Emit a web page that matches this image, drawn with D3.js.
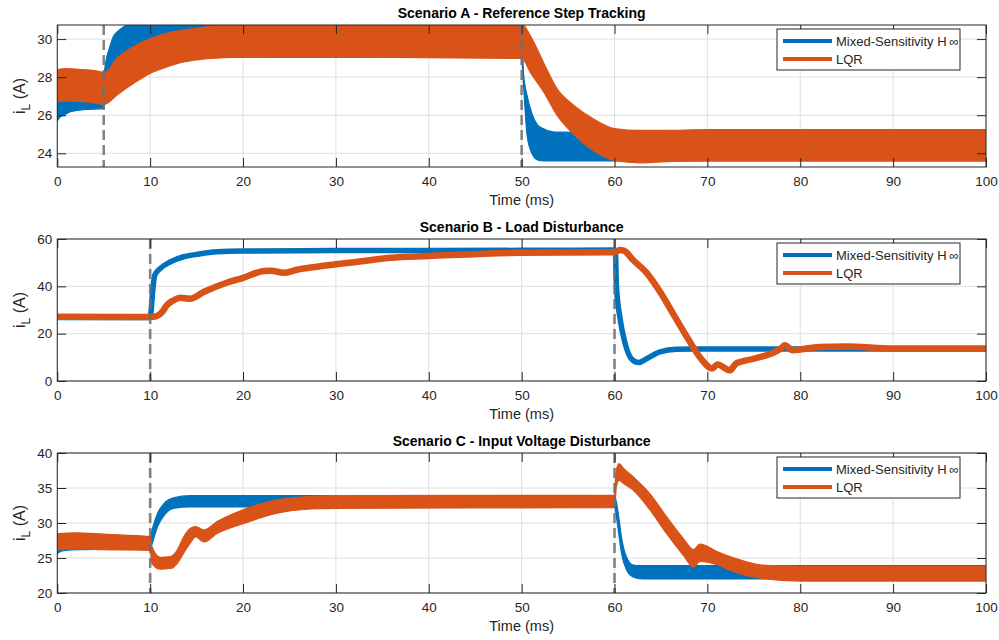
<!DOCTYPE html>
<html><head><meta charset="utf-8">
<script src="https://cdn.jsdelivr.net/npm/d3@7/dist/d3.min.js"></script>
<style>
body{margin:0;background:#fff;}
svg{display:block;font-family:"Liberation Sans",Arial,Helvetica,sans-serif;}
</style></head>
<body><svg id="chart" width="999" height="640"></svg>
<script>
// ---------------- data ----------------
const xTicks = [0,10,20,30,40,50,60,70,80,90,100];
const seriesNames = ["Mixed-Sensitivity H\u2009\u221E", "LQR"];
const titles = ["Scenario A - Reference Step Tracking","Scenario B - Load Disturbance","Scenario C - Input Voltage Disturbance"];
const yDomains = [[23.28,30.74],[0,60],[20,40]];
const yTicksA = [24,26,28,30];
const yTicksB = [0,20,40,60];
const yTicksC = [20,25,30,35,40];
const stepTimesA = [5,50];
const stepTimesB = [10,60];
const stepTimesC = [10,60];

// Scenario A (ripple band: lower / upper envelope)
const aHinfT  = [0,0.3,0.7,1.5,3,5,5.1,5.3,5.6,6.0,6.5,7.0,7.8,9,12,20,50,50.2,50.6,51.1,51.7,52.3,53.5,60,100];
const aHinfLo = [25.7,25.9,26.0,26.2,26.3,26.35,26.8,27.4,27.9,28.3,28.6,28.8,28.95,29.0,29.05,29.05,29.05,27.6,24.9,24.0,23.65,23.6,23.6,23.6,23.6];
const aHinfHi = [27.8,27.9,28.0,28.0,28.0,28.0,28.4,29.0,29.5,30.1,30.4,30.6,30.8,30.9,30.95,30.95,30.95,28.2,27.0,26.1,25.5,25.3,25.12,25.1,25.15];
const aLqrT   = [0,1,2.5,4,5,5.3,6.4,8.2,10,11.8,13.6,15.4,17.9,20,30,50,51,52.4,53.8,55.6,57.7,60,62.7,65,70,100];
const aLqrLo  = [26.7,26.75,26.72,26.65,26.55,26.6,27.05,27.67,28.2,28.54,28.8,28.93,29.02,29.05,29.07,28.98,28.2,27.2,26.0,25.0,24.15,23.63,23.5,23.55,23.6,23.6];
const aLqrHi  = [28.4,28.45,28.4,28.35,28.25,28.3,28.98,29.6,30.03,30.3,30.48,30.6,30.75,30.8,30.8,30.8,30.12,28.72,27.4,26.53,25.82,25.3,25.2,25.2,25.25,25.25];

// Scenario B (thick traces: mean current)
const bHinfT = [0,10,10.05,10.3,10.5,11.1,12.2,13.6,15,17.2,20,30,50,60,60.1,60.2,60.6,61.1,61.8,62.6,63.5,64.9,66.7,68.5,100];
const bHinfY = [26.8,26.8,27.8,39.1,44.8,47.6,50.4,52.5,53.5,54.6,54.9,55.1,55.2,55.3,54.0,40.5,26.4,16.5,9.5,7.8,9.5,12.3,13.4,13.5,13.5];
const bLqrT  = [0,10,10.7,11.3,11.8,12.5,13.2,14.3,15.8,18,20,22.3,23,24.4,25.8,28,30,33,35.9,40,50,60,60.6,61,62,63.5,64.9,66.3,67.8,69.3,70.5,71.1,72.4,73.1,75.1,78,78.3,79.2,82,85,90,100];
const bLqrY  = [27.2,27.0,27.4,29.2,32.1,34.0,35.2,34.8,37.7,41.2,43.6,46.5,46.6,45.7,47.0,48.3,49.3,50.7,52.1,52.8,54.2,54.4,55.3,55.1,51.1,45.5,37.7,28.5,18.6,9.5,5.3,7.0,4.5,7.4,9.5,14.0,15.1,13.0,14.4,14.6,13.7,13.7];

// Scenario C (ripple band: lower / upper envelope)
const cHinfT  = [0,0.5,2,5,10,10.2,10.8,11.5,12.5,14.3,40,60,60.2,60.5,60.75,61.3,62,63,100];
const cHinfLo = [25.6,26.0,26.2,26.25,26.3,27.0,29.5,31.1,32.1,32.3,32.3,32.3,30.9,28.0,25.7,23.3,22.3,22.0,22.0];
const cHinfHi = [27.9,28.0,28.0,28.0,28.0,29.0,31.4,32.8,33.6,33.9,33.9,33.9,33.0,30.4,28.0,25.1,24.0,23.9,23.9];
const cLqrT   = [0,2,5,10,10.2,11.1,12.2,12.9,13.6,14.3,14.9,15.8,17.2,20,23.7,27.3,30,60,60.2,60.5,60.9,62,63.8,65.6,67.4,68.5,69.2,71.1,72.9,75.8,80,100];
const cLqrLo  = [26.2,26.3,26.2,26.1,24.2,23.4,23.5,24.2,25.7,27.1,28.0,27.3,28.5,29.9,31.4,32.0,32.1,32.2,35.2,36.1,35.7,34.7,31.9,28.5,25.4,23.7,24.5,24.0,23.0,22.1,21.7,21.7];
const cLqrHi  = [28.5,28.6,28.4,28.05,26.6,25.1,25.2,26.1,28.0,29.2,29.5,29.0,30.2,31.9,33.3,33.8,33.9,34.0,37.6,38.5,37.9,36.6,34.2,30.9,27.8,26.2,27.0,25.9,25.0,24.0,23.8,23.8];

// ---------------- drawing ----------------
const colors = ["#0072BD","#D95319"];
const svg = d3.select("#chart");
const left = 57.3, right = 986;
const panels = [
  {top:25, bottom:167, yTicks:yTicksA, steps:stepTimesA, kind:"band",
   series:[{t:aHinfT, lo:aHinfLo, hi:aHinfHi},{t:aLqrT, lo:aLqrLo, hi:aLqrHi}]},
  {top:239, bottom:381, yTicks:yTicksB, steps:stepTimesB, kind:"line",
   series:[{t:bHinfT, y:bHinfY, w:5.5},{t:bLqrT, y:bLqrY, w:6.5}]},
  {top:453, bottom:593, yTicks:yTicksC, steps:stepTimesC, kind:"band",
   series:[{t:cHinfT, lo:cHinfLo, hi:cHinfHi},{t:cLqrT, lo:cLqrLo, hi:cLqrHi}]}
];
const textCol = "#262626";

panels.forEach((p, pi) => {
  const x = d3.scaleLinear().domain([0,100]).range([left,right]);
  const y = d3.scaleLinear().domain(yDomains[pi]).range([p.bottom,p.top]);
  const g = svg.append("g");
  const clipId = "clip"+pi;
  svg.append("clipPath").attr("id",clipId).append("rect")
    .attr("x",left).attr("y",p.top).attr("width",right-left).attr("height",p.bottom-p.top);

  // background + grid
  g.append("rect").attr("x",left).attr("y",p.top).attr("width",right-left).attr("height",p.bottom-p.top).attr("fill","#fff");
  g.append("g").selectAll("line").data(xTicks).join("line")
    .attr("x1",d=>x(d)).attr("x2",d=>x(d)).attr("y1",p.top).attr("y2",p.bottom)
    .attr("stroke","#dfdfdf").attr("stroke-width",1);
  g.append("g").selectAll("line").data(p.yTicks).join("line")
    .attr("x1",left).attr("x2",right).attr("y1",d=>y(d)).attr("y2",d=>y(d))
    .attr("stroke","#dfdfdf").attr("stroke-width",1);

  const plot = g.append("g").attr("clip-path",`url(#${clipId})`);
  p.series.forEach((s, si) => {
    const idx = d3.range(s.t.length);
    if (p.kind === "band") {
      const area = d3.area().curve(d3.curveMonotoneX)
        .x(i=>x(s.t[i])).y0(i=>y(s.lo[i])).y1(i=>y(s.hi[i]));
      plot.append("path").attr("d",area(idx)).attr("fill",colors[si])
        .attr("stroke",colors[si]).attr("stroke-width",1.2);
    } else {
      const line = d3.line().curve(d3.curveMonotoneX).x(i=>x(s.t[i])).y(i=>y(s.y[i]));
      plot.append("path").attr("d",line(idx)).attr("fill","none")
        .attr("stroke",colors[si]).attr("stroke-width",s.w)
        .attr("stroke-linejoin","round").attr("stroke-linecap","round");
    }
  });
  // dashed event lines
  plot.selectAll(".ev").data(p.steps).join("line")
    .attr("x1",d=>x(d)).attr("x2",d=>x(d)).attr("y1",p.top).attr("y2",p.bottom)
    .attr("stroke","#6e6e6e").attr("stroke-opacity",0.85).attr("stroke-width",2.6)
    .attr("stroke-dasharray","10,5");

  // axes frame
  g.append("rect").attr("x",left).attr("y",p.top).attr("width",right-left).attr("height",p.bottom-p.top)
    .attr("fill","none").attr("stroke",textCol).attr("stroke-width",1);
  const tl = 9;
  const axB = d3.axisBottom(x).tickValues(xTicks).tickSizeInner(-tl).tickSizeOuter(0).tickPadding(9);
  const gx = g.append("g").attr("transform",`translate(0,${p.bottom})`).call(axB);
  const axT = d3.axisTop(x).tickValues(xTicks).tickSizeInner(-tl).tickSizeOuter(0).tickFormat("");
  const gxt = g.append("g").attr("transform",`translate(0,${p.top})`).call(axT);
  const axL = d3.axisLeft(y).tickValues(p.yTicks).tickSizeInner(-tl).tickSizeOuter(0).tickPadding(5);
  const gy = g.append("g").attr("transform",`translate(${left},0)`).call(axL);
  const axR = d3.axisRight(y).tickValues(p.yTicks).tickSizeInner(-tl).tickSizeOuter(0).tickFormat("");
  const gyr = g.append("g").attr("transform",`translate(${right},0)`).call(axR);
  [gx,gxt,gy,gyr].forEach(a=>{
    a.select(".domain").remove();
    a.selectAll("line").attr("stroke",textCol);
    a.selectAll("text").attr("fill",textCol).style("font-size","13.5px")
      .style("font-family",'"Liberation Sans",Arial,sans-serif');
  });

  // title
  g.append("text").attr("x",(left+right)/2).attr("y",p.top-7).attr("text-anchor","middle")
    .style("font-size","14px").style("font-weight","bold").attr("fill","#000").text(titles[pi]);
  // x label
  g.append("text").attr("x",(left+right)/2).attr("y",p.bottom+38).attr("text-anchor","middle")
    .style("font-size","14.5px").attr("fill",textCol).text("Time (ms)");
  // y label
  const yl = g.append("text").attr("transform",`translate(25,${(p.top+p.bottom)/2}) rotate(-90)`)
    .attr("text-anchor","middle").style("font-size","16px").attr("fill",textCol);
  yl.append("tspan").text("i");
  yl.append("tspan").attr("dy",5).style("font-size","12px").text("L");
  yl.append("tspan").attr("dy",-5).text(" (A)");

  // legend
  const lx = 777, ly = p.top+4, lw = 183, lh = 41;
  const lg = g.append("g");
  lg.append("rect").attr("x",lx).attr("y",ly).attr("width",lw).attr("height",lh)
    .attr("fill","#fff").attr("stroke",textCol).attr("stroke-width",1);
  seriesNames.forEach((nm,si)=>{
    const yy = ly + 12 + si*18;
    lg.append("line").attr("x1",lx+6).attr("x2",lx+55).attr("y1",yy).attr("y2",yy)
      .attr("stroke",colors[si]).attr("stroke-width",4);
    lg.append("text").attr("x",lx+59).attr("y",yy+4.5).style("font-size","13px")
      .attr("fill",textCol).text(nm);
  });
});
</script></body></html>
